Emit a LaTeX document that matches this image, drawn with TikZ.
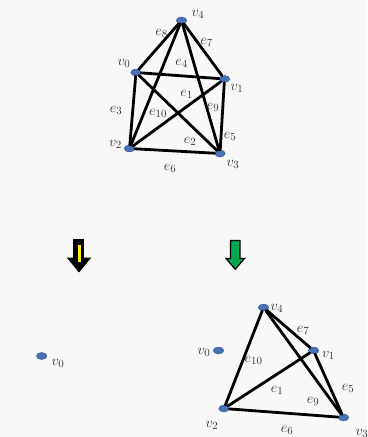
\documentclass[tikz,border=0pt]{standalone}
\usepackage{tikz}
\usetikzlibrary{shapes.geometric}
\definecolor{bg}{RGB}{248,248,248}
\definecolor{nodeblue}{RGB}{72,114,180}
\definecolor{nodeedge}{RGB}{50,85,140}
\definecolor{arrgreen}{RGB}{0,166,80}
\definecolor{arryellow}{RGB}{255,240,0}
\begin{document}
\begin{tikzpicture}[x=1bp,y=-1bp,
  vtx/.style={ellipse,draw=nodeedge,fill=nodeblue,line width=0.4bp,minimum width=10.5bp,minimum height=7bp,inner sep=0pt},
  edge/.style={line width=2.8bp,black,line cap=round},
  lab/.style={inner sep=0pt,font=\fontsize{15}{17}\selectfont,text=black!80}]
\fill[bg] (0,0) rectangle (367,437);
\useasboundingbox (0,0) rectangle (367,437);
% top graph
\node[vtx] (t4) at (181.5,20.5) {};
\node[vtx] (t0) at (136,72.5) {};
\node[vtx] (t1) at (224.5,79) {};
\node[vtx] (t2) at (129.5,148.5) {};
\node[vtx] (t3) at (220,153.5) {};
\draw[edge] (t0) -- (t4);
\draw[edge] (t4) -- (t1);
\draw[edge] (t0) -- (t1);
\draw[edge] (t4) -- (t2);
\draw[edge] (t4) -- (t3);
\draw[edge] (t0) -- (t2);
\draw[edge] (t0) -- (t3);
\draw[edge] (t1) -- (t2);
\draw[edge] (t1) -- (t3);
\draw[edge] (t2) -- (t3);
\node[lab] (lt4) at (198,14) {$v_4$};
\node[lab] (lt0) at (124,63) {$v_0$};
\node[lab] (lt1) at (237,88) {$v_1$};
\node[lab] (lt2) at (115.5,144) {$v_2$};
\node[lab] (lt3) at (233,164.5) {$v_3$};
\node[lab] (le8) at (161.5,33) {$e_8$};
\node[lab] (le7) at (206.5,42.5) {$e_7$};
\node[lab] (le4) at (181.5,63.5) {$e_4$};
\node[lab] (le1) at (186.5,94) {$e_1$};
\node[lab] (le10) at (158,113) {$e_{10}$};
\node[lab] (le9) at (213,107) {$e_9$};
\node[lab] (le3) at (116,110) {$e_3$};
\node[lab] (le5) at (230,136) {$e_5$};
\node[lab] (le2) at (190,141.5) {$e_2$};
\node[lab] (le6) at (170,168) {$e_6$};
% arrows
\filldraw[black,line width=0.6bp,line join=miter] (73.5,239.5) -- (83.5,239.5) -- (83.5,258) -- (90.5,258) -- (79,272) -- (67.5,258) -- (73.5,258) -- cycle;
\fill[arryellow] (78.3,244.5) rectangle (81.3,262);
\filldraw[fill=arrgreen,draw=black,line width=1.2bp,line join=miter] (230.5,240.5) -- (240,240.5) -- (240,258.5) -- (244.5,258.5) -- (235.2,269.3) -- (226,258.5) -- (230.5,258.5) -- cycle;
% bottom left
\node[vtx] (l0) at (41.7,356) {};
\node[lab] (ll0) at (58,363) {$v_0$};
% bottom right
\node[vtx] (r0) at (218.5,350.5) {};
\node[vtx] (r4) at (263.5,307.5) {};
\node[vtx] (r1) at (313.5,350.5) {};
\node[vtx] (r2) at (224,408.5) {};
\node[vtx] (r3) at (343.5,417.5) {};
\draw[edge] (r4) -- (r1);
\draw[edge] (r4) -- (r2);
\draw[edge] (r4) -- (r3);
\draw[edge] (r1) -- (r2);
\draw[edge] (r1) -- (r3);
\draw[edge] (r2) -- (r3);
\node[lab] (lr0) at (204,352) {$v_0$};
\node[lab] (lr4) at (277,308) {$v_4$};
\node[lab] (lr1) at (328.5,355) {$v_1$};
\node[lab] (lr2) at (212,425) {$v_2$};
\node[lab] (lr3) at (362,433) {$v_3$};
\node[lab] (lre7) at (303,330.5) {$e_7$};
\node[lab] (lre10) at (253.5,360) {$e_{10}$};
\node[lab] (lre1) at (277,390) {$e_1$};
\node[lab] (lre5) at (348,388) {$e_5$};
\node[lab] (lre9) at (313,401.5) {$e_9$};
\node[lab] (lre6) at (287,430) {$e_6$};
\end{tikzpicture}
\end{document}
